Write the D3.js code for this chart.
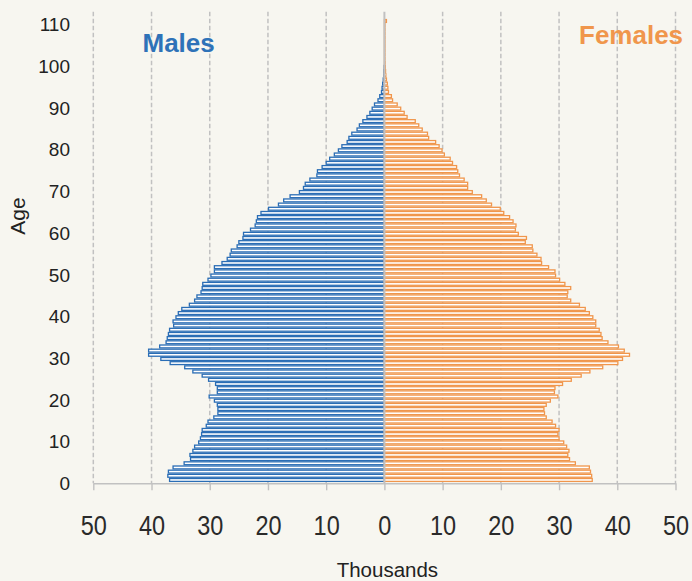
<!DOCTYPE html>
<html>
<head>
<meta charset="utf-8">
<script src="https://d3js.org/d3.v7.min.js"></script>
<style>
  body { margin: 0; background: #f7f6f0; }
  svg text { font-family: "Liberation Sans", Arial, sans-serif; }
</style>
</head>
<body>
<svg width="692" height="581"></svg>
<script>
// population by single year of age (thousands), age 0 .. 110
let males = [
  36.9, 37.2, 37.1, 36.3, 34.4, 33.3, 33.4, 32.9, 32.6, 31.9,
  31.6, 31.4, 31.3, 30.6, 30.3, 29.3, 28.6, 28.6, 28.7, 29.2,
  30.1, 28.7, 28.7, 29.0, 30.2, 31.3, 32.9, 34.3, 36.8, 38.4,
  40.5, 40.5, 38.6, 37.5, 37.3, 37.1, 36.9, 36.2, 36.3, 35.8,
  35.4, 34.8, 33.5, 32.6, 32.2, 31.5, 31.3, 31.2, 30.3, 29.8,
  29.2, 29.2, 27.9, 27.0, 26.5, 26.3, 25.3, 25.0, 24.3, 24.2,
  23.0, 22.2, 22.0, 21.8, 21.2, 19.9, 18.2, 17.3, 16.2, 14.6,
  13.9, 13.6, 12.8, 11.6, 11.5, 10.7, 10.0, 9.4, 8.6, 7.9,
  7.3, 6.4, 6.1, 5.6, 4.7, 4.3, 3.7, 3.0, 2.5, 2.1,
  1.7, 1.1, 0.8, 0.5, 0.4, 0.3, 0.2, 0.1, 0.1, 0.05,
  0, 0, 0, 0, 0, 0, 0, 0, 0, 0, 0
];
let females = [
  35.7, 35.6, 35.4, 35.2, 32.8, 31.8, 31.5, 31.7, 31.3, 30.8,
  30.0, 29.8, 30.0, 29.4, 28.8, 27.8, 27.5, 27.4, 27.8, 28.5,
  29.8, 29.2, 29.3, 30.6, 32.1, 33.8, 35.3, 37.5, 40.1, 40.9,
  42.1, 41.2, 40.2, 38.4, 37.4, 37.2, 36.9, 36.3, 36.3, 35.8,
  35.2, 34.5, 33.5, 32.0, 31.4, 31.5, 32.0, 31.0, 30.1, 29.4,
  29.3, 28.2, 27.0, 26.9, 26.2, 25.5, 25.4, 24.2, 24.4, 23.0,
  22.5, 22.6, 22.1, 21.5, 20.5, 19.9, 18.4, 17.5, 16.7, 15.1,
  14.3, 14.3, 13.7, 12.9, 12.6, 12.4, 11.7, 11.3, 10.3, 9.9,
  9.4, 8.8, 7.6, 7.4, 6.5, 5.9, 5.3, 3.9, 3.4, 2.8,
  2.2, 1.4, 1.2, 0.7, 0.6, 0.5, 0.35, 0.25, 0.2, 0.15,
  0.12, 0.1, 0.1, 0.1, 0.1, 0.1, 0.1, 0.1, 0.1, 0.1, 0.35
];
let data = males.map(function(m, i) { return {age: i, male: m, female: females[i]}; });

let svg = d3.select("svg"),
    width = +svg.attr("width"),
    height = +svg.attr("height");

let blue = "#2a6db5", orange = "#f0964c", grey = "#c1c1c1";

svg.append("rect").attr("width", width).attr("height", height).attr("fill", "#f7f6f0");

let x = d3.scaleLinear().domain([-50, 50]).range([93.3, 675.5]);
let y = d3.scaleLinear().domain([0, 113]).range([483.3, 11.8]);

// dashed gridlines
svg.append("g")
  .selectAll("line")
  .data(d3.range(-50, 51, 10).filter(function(d) { return d !== 0; }))
  .enter().append("line")
    .attr("x1", function(d) { return x(d); })
    .attr("x2", function(d) { return x(d); })
    .attr("y1", y(113))
    .attr("y2", y(0))
    .attr("stroke", grey)
    .attr("stroke-width", 1.5)
    .attr("stroke-dasharray", "4.5,2.5");

let band = y(0) - y(1),
    sw = 1.3;

svg.append("g")
  .selectAll("rect")
  .data(data.filter(function(d) { return d.male > 0; }))
  .enter().append("rect")
    .attr("x", function(d) { return x(-d.male); })
    .attr("y", function(d) { return y(d.age + 1.3) + sw / 2; })
    .attr("width", function(d) { return x(0) - x(-d.male); })
    .attr("height", band - sw)
    .attr("fill", "#ffffff")
    .attr("stroke", blue)
    .attr("stroke-width", sw);

svg.append("g")
  .selectAll("rect")
  .data(data.filter(function(d) { return d.female > 0; }))
  .enter().append("rect")
    .attr("x", x(0))
    .attr("y", function(d) { return y(d.age + 1.3) + sw / 2; })
    .attr("width", function(d) { return x(d.female) - x(0); })
    .attr("height", band - sw)
    .attr("fill", "#ffffff")
    .attr("stroke", orange)
    .attr("stroke-width", sw);

// centre line
svg.append("line")
  .attr("x1", x(0)).attr("x2", x(0))
  .attr("y1", y(113)).attr("y2", y(0))
  .attr("stroke", grey)
  .attr("stroke-width", 2);

// bottom axis
let xAxis = svg.append("g")
  .attr("transform", "translate(0," + y(0) + ")")
  .call(d3.axisBottom(x)
    .tickValues(d3.range(-50, 51, 10))
    .tickFormat(function(d) { return Math.abs(d); })
    .tickSize(7)
    .tickSizeOuter(0)
    .tickPadding(25));
xAxis.select(".domain").attr("stroke", grey).attr("stroke-width", 1.6);
xAxis.selectAll(".tick line").attr("stroke", grey).attr("stroke-width", 1.4);
// narrow look of the original labels
xAxis.selectAll(".tick text")
  .attr("fill", "#2a2a2a")
  .attr("transform", "scale(0.84,1)")
  .style("font-size", "28px");

// age labels
svg.append("g")
  .selectAll("text")
  .data(d3.range(0, 111, 10))
  .enter().append("text")
    .attr("x", 70)
    .attr("y", function(d) { return y(d); })
    .attr("dy", "0.36em")
    .attr("text-anchor", "end")
    .attr("fill", "#222")
    .style("font-size", "19px")
    .text(function(d) { return d; });

svg.append("text")
  .attr("transform", "translate(25,216) rotate(-90)")
  .attr("text-anchor", "middle")
  .attr("fill", "#222")
  .style("font-size", "21px")
  .text("Age");

svg.append("text")
  .attr("x", x(0) + 3)
  .attr("y", 577)
  .attr("text-anchor", "middle")
  .attr("fill", "#222")
  .style("font-size", "20.5px")
  .text("Thousands");

svg.append("text")
  .attr("x", 142.5)
  .attr("y", 51.5)
  .attr("fill", "#2e72b8")
  .style("font-size", "26px")
  .style("font-weight", "bold")
  .text("Males");

svg.append("text")
  .attr("x", 579)
  .attr("y", 44.3)
  .attr("fill", orange)
  .style("font-size", "26px")
  .style("font-weight", "bold")
  .text("Females");
</script>
</body>
</html>
